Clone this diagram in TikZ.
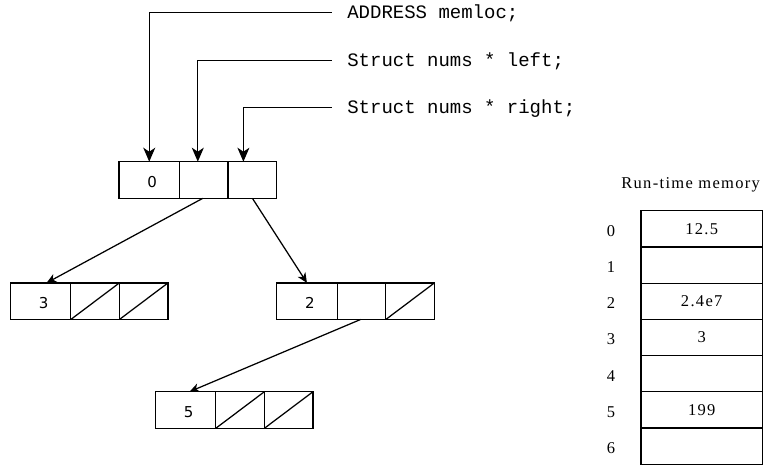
\documentclass[tikz,border=0pt]{standalone}
\usepackage{fontspec}
\setmainfont{Liberation Serif}
\newfontfamily\codefont{Liberation Mono}
\newfontfamily\cellfont{DejaVu Sans}
\newfontfamily\memfont[LetterSpace=8]{Liberation Serif}
\usetikzlibrary{arrows.meta,calc}

\begin{document}
\begin{tikzpicture}[x=1pt,y=-1pt,
  every path/.style={line width=1.25pt},
  cellbox/.style={draw, line width=1.25pt, minimum height=36.6pt, inner sep=0pt, outer sep=0pt, anchor=west},
  datacell/.style={cellbox, minimum width=60.5pt},
  ptrcell/.style={cellbox, minimum width=48.6pt},
  nullcell/.style={ptrcell, path picture={\draw[line width=1.25pt] (path picture bounding box.south west) -- (path picture bounding box.north east);}},
  celltext/.style={font=\cellfont\fontsize{15}{17}\selectfont, inner sep=0pt},
  codetext/.style={font=\codefont\fontsize{19}{21}\selectfont, inner sep=0pt, anchor=base west},
  memcell/.style={draw, line width=1.25pt, minimum width=121.3pt, minimum height=36.23pt, inner sep=0pt, outer sep=0pt, anchor=north},
  memtext/.style={font=\memfont\fontsize{16.5}{18}\selectfont, inner sep=0pt},
  bigtip/.style={-{Stealth[length=14pt,width=12pt,inset=4pt]}},
  smalltip/.style={-{Stealth[length=10pt,width=9pt,inset=3pt]}}
]
\useasboundingbox (0,0) rectangle (767,465);

% root record
\node[datacell] (t0) at (119,180) {};
\node[ptrcell]  (t1) at (t0.east) {};
\node[ptrcell]  (t2) at (t1.east) {};
\node[celltext] (t0v) at ([shift={(3,2)}]t0.center) {0};

% left child
\node[datacell] (l0) at (10.3,301.2) {};
\node[nullcell] (l1) at (l0.east) {};
\node[nullcell] (l2) at (l1.east) {};
\node[celltext] (l0v) at ([shift={(3,2)}]l0.center) {3};

% right child
\node[datacell] (r0) at (276.7,301.2) {};
\node[ptrcell]  (r1) at (r0.east) {};
\node[nullcell] (r2) at (r1.east) {};
\node[celltext] (r0v) at ([shift={(3,2)}]r0.center) {2};

% grandchild
\node[datacell] (g0) at (155.3,410) {};
\node[nullcell] (g1) at (g0.east) {};
\node[nullcell] (g2) at (g1.east) {};
\node[celltext] (g0v) at ([shift={(3,2)}]g0.center) {5};

% tree links
\draw[smalltip] ([xshift=-1]t1.south) -- ([xshift=6]l0.north);
\draw[smalltip] (t2.south) -- (r0.north);
\draw[smalltip] ([xshift=-1]r1.south) -- ([xshift=4]g0.north);

% field declarations
\node[codetext] (d0) at (346.7,18.3) {ADDRESS memloc;};
\node[codetext] (d1) at (346.7,66.5) {Struct nums * left;};
\node[codetext] (d2) at (346.7,113.5) {Struct nums * right;};
\coordinate (e0) at (331.7,12.3);
\coordinate (e1) at (331.7,60.7);
\coordinate (e2) at (331.7,107.7);
\draw[bigtip] (e0) -| (t0.north);
\draw[bigtip] (e1) -| ([xshift=-6]t1.north);
\draw[bigtip] (e2) -| ([xshift=-9]t2.north);

% run-time memory
\node[memtext, anchor=base west] (mt) at (620.7,188.3) {Run-time memory};
\node[memcell] (m0) at (701.7,210.7) {};
\node[memcell] (m1) at (m0.south) {};
\node[memcell] (m2) at (m1.south) {};
\node[memcell] (m3) at (m2.south) {};
\node[memcell] (m4) at (m3.south) {};
\node[memcell] (m5) at (m4.south) {};
\node[memcell] (m6) at (m5.south) {};
\node[memtext] (v0) at (m0.center) {12.5};
\node[memtext] (v2) at (m2.center) {2.4e7};
\node[memtext] (v3) at (m3.center) {3};
\node[memtext] (v5) at (m5.center) {199};
\foreach \i in {0,...,6}{
  \node[memtext] (a\i) at ($(m\i.center)+(-90.7,2)$) {\i};
}
\end{tikzpicture}
\end{document}
